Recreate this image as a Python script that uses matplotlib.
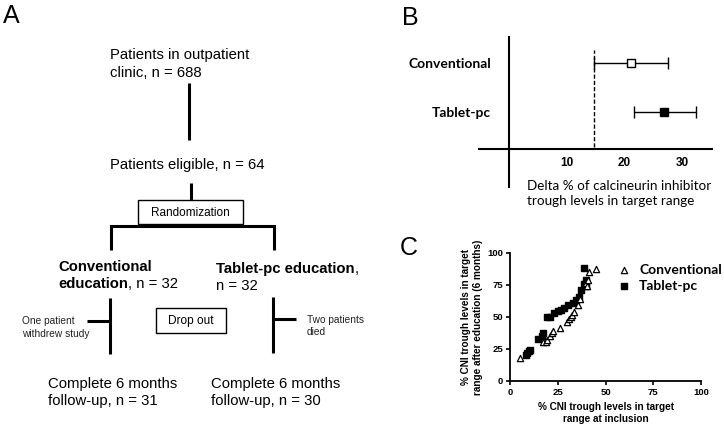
import matplotlib.pyplot as plt

# ---- panel A: flow chart text ----
top_text = ["Patients in outpatient", "clinic, n = 688"]
eligible_text = "Patients eligible, n = 64"
arm_names = ["Conventional", "Tablet-pc education"]
arm_n = ["education, n = 32", "n = 32"]
dropout_notes = [["One patient", "withdrew study"], ["Two patients", "died"]]
final_text = [["Complete 6 months", "follow-up, n = 31"],
              ["Complete 6 months", "follow-up, n = 30"]]

# ---- panel B: delta % of CNI trough levels in target range ----
groups = ["Conventional", "Tablet-pc"]
delta_mean = [21.2, 26.9]
delta_low = [14.7, 21.6]
delta_high = [27.6, 32.4]
ref_value = 14.7
b_ticks = [10, 20, 30]

# ---- panel C: trough levels at inclusion vs after education ----
conv_x = [5.1, 17.3, 18.7, 19.6, 20.8, 21.9, 22.6, 26.2, 30.1, 30.9, 31.8,
          32.7, 33.6, 35.5, 36.7, 40.0, 40.4, 40.6, 41.4, 44.9]
conv_y = [18.1, 30.1, 30.6, 32.4, 35.2, 37.8, 39.4, 41.5, 46.4, 48.2, 49.7,
          51.3, 53.9, 59.6, 64.2, 76.7, 74.6, 79.0, 85.0, 87.5]
tab_x = [8.6, 9.1, 10.0, 10.3, 14.9, 17.0, 17.5, 19.2, 21.0, 23.2, 25.0, 26.7,
         28.4, 30.2, 32.9, 34.6, 36.3, 37.2, 38.9, 39.8, 38.6, 40.0]
tab_y = [20.2, 21.5, 23.3, 24.6, 32.6, 35.2, 37.6, 50.0, 50.0, 53.2, 54.5, 55.8,
         57.4, 59.0, 61.0, 63.0, 65.7, 71.0, 76.0, 79.0, 88.0, 74.0]
c_ticks = [0, 25, 50, 75, 100]

ARIAL = "Liberation Sans"
CALIBRI = "Lato"

W, H = 724, 429
fig = plt.figure(figsize=(W / 100, H / 100), dpi=100)

# panel A drawn in pixel coordinates
ax0 = fig.add_axes([0, 0, 1, 1], zorder=0)
ax0.set_xlim(0, W)
ax0.set_ylim(H, 0)
ax0.axis("off")

fs = 10.7
thick = 2.2
t = dict(family=ARIAL, fontsize=fs, va="baseline")
ax0.text(3, 23, "A", family=ARIAL, fontsize=18, va="baseline")
ax0.text(110, 59, top_text[0], **t)
ax0.text(110, 77, top_text[1], **t)
ax0.plot([189, 189], [83, 140], color="k", lw=thick, solid_capstyle="butt")
ax0.text(110, 169, eligible_text, **t)
ax0.plot([191, 191], [183, 200], color="k", lw=thick, solid_capstyle="butt")
ax0.add_patch(plt.Rectangle((138, 200), 105, 24, fill=False, lw=1, ec="k"))
ax0.text(190.5, 213, "Randomization", family=ARIAL, fontsize=8.5,
         ha="center", va="center")
ax0.plot([111, 111, 274, 274], [250, 226, 226, 250], color="k", lw=thick,
         solid_joinstyle="miter", solid_capstyle="butt")

# arm headers
ax0.text(58, 271, arm_names[0], weight="bold", **t)
edu = ax0.text(58, 288, "education", weight="bold", **t)
ax0.annotate(", n = 32", xy=(1, 0), xycoords=edu, va="bottom",
             family=ARIAL, fontsize=fs)
tab = ax0.text(216, 273, arm_names[1], weight="bold", **t)
ax0.annotate(",", xy=(1, 0), xycoords=tab, va="bottom",
             family=ARIAL, fontsize=fs)
ax0.text(216, 290, arm_n[1], **t)

# drop-out branches
for xv, y0, y1, yt, xt0, xt1 in [(110, 298, 354, 321, 87, 110),
                                 (273, 297, 353, 319, 273, 296)]:
    ax0.plot([xv, xv], [y0, y1], color="k", lw=thick, solid_capstyle="butt")
    ax0.plot([xt0, xt1], [yt, yt], color="k", lw=thick, solid_capstyle="butt")
small = dict(family=ARIAL, fontsize=7.3, va="baseline", color="#222222")
ax0.text(22, 324, dropout_notes[0][0], **small)
ax0.text(22, 337, dropout_notes[0][1], **small)
ax0.text(307, 323, dropout_notes[1][0], **small)
ax0.text(307, 335, dropout_notes[1][1], **small)
ax0.add_patch(plt.Rectangle((156, 308), 70, 25, fill=False, lw=1, ec="k"))
ax0.text(191, 321, "Drop out", family=ARIAL, fontsize=8.6,
         ha="center", va="center")

ax0.text(48, 388, final_text[0][0], **t)
ax0.text(48, 405, final_text[0][1], **t)
ax0.text(211, 388, final_text[1][0], **t)
ax0.text(211, 405, final_text[1][1], **t)

ax0.text(402, 25, "B", family=ARIAL, fontsize=18, va="baseline")
ax0.text(400, 255, "C", family=ARIAL, fontsize=18, va="baseline")

# ---- panel B ----
axb = fig.add_axes([479 / W, 1 - 187 / H, 233 / W, 150 / H], zorder=1)
axb.patch.set_alpha(0)
ypos = [2, 1]
axb.set_xlim(-5.2, 35.2)
axb.set_ylim(-0.506, 2.52)
for sp in ["top", "right"]:
    axb.spines[sp].set_visible(False)
axb.spines["left"].set_position(("data", 0))
axb.spines["bottom"].set_position(("data", 0.26))
for sp in ["left", "bottom"]:
    axb.spines[sp].set_linewidth(1.5)
axb.vlines(ref_value, 0.3, 2.26, colors="k", linestyles=(0, (3, 1.5)), lw=1)
for i, g in enumerate(groups):
    axb.errorbar(delta_mean[i], ypos[i],
                 xerr=[[delta_mean[i] - delta_low[i]], [delta_high[i] - delta_mean[i]]],
                 fmt="s", ms=5.5, mfc="white" if i == 0 else "black", mec="k",
                 mew=1, ecolor="k", elinewidth=1, capsize=4, capthick=1)
axb.set_xticks(b_ticks)
axb.set_xticklabels([str(v) for v in b_ticks], family=ARIAL, weight="bold",
                    fontsize=8.5)
axb.tick_params(axis="x", length=0, pad=6)
axb.set_yticks(ypos)
axb.set_yticklabels(groups, family=CALIBRI, weight="bold", fontsize=10)
axb.tick_params(axis="y", length=0, pad=13)
fig.text(527 / W, 1 - 180 / H,
         "Delta % of calcineurin inhibitor\ntrough levels in target range",
         family=CALIBRI, fontsize=9.7, va="top", linespacing=1.3)

# ---- panel C ----
axc = fig.add_axes([510 / W, 1 - 381 / H, 191 / W, 128 / H], zorder=1)
axc.patch.set_alpha(0)
axc.scatter(conv_x, conv_y, marker="^", s=20, facecolors="white",
            edgecolors="k", linewidths=0.9, label="Conventional", zorder=3)
axc.scatter(tab_x, tab_y, marker="s", s=22, color="k", label="Tablet-pc",
            zorder=2)
axc.set_xlim(0, 100)
axc.set_ylim(0, 100)
axc.set_xticks(c_ticks)
axc.set_yticks(c_ticks)
for sp in ["top", "right"]:
    axc.spines[sp].set_visible(False)
for sp in ["left", "bottom"]:
    axc.spines[sp].set_linewidth(1.3)
axc.tick_params(direction="out", length=3, width=1.2, pad=2)
for lab in axc.get_xticklabels() + axc.get_yticklabels():
    lab.set_family(ARIAL)
    lab.set_weight("bold")
    lab.set_fontsize(6.8)
axc.set_xlabel("% CNI trough levels in target\nrange at inclusion",
               family=ARIAL, weight="bold", fontsize=7.2, labelpad=4,
               linespacing=1.25)
axc.set_ylabel("% CNI trough levels in target\nrange after education (6 months)",
               family=ARIAL, weight="bold", fontsize=7.2, labelpad=3,
               linespacing=1.2)
axc.legend(loc="upper left", bbox_to_anchor=(610 / W, 1 - 257 / H),
           bbox_transform=fig.transFigure, frameon=False, handletextpad=0.6,
           labelspacing=0.3, borderpad=0, handlelength=1,
           prop=dict(family=CALIBRI, weight="bold", size=10))

fig.savefig("out.png", dpi=100)
